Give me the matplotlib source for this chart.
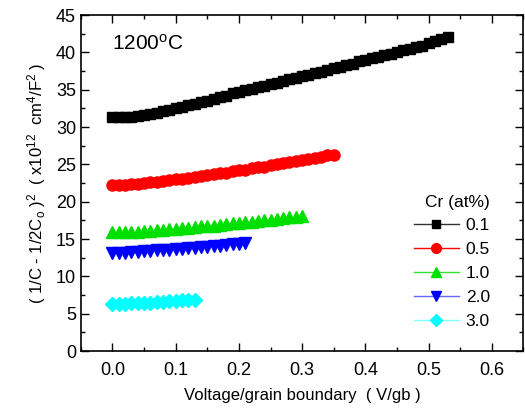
import matplotlib
matplotlib.use("Agg")
import matplotlib.pyplot as plt
import numpy as np
from matplotlib.ticker import MultipleLocator

plt.rcParams["font.family"] = ["Liberation Sans", "DejaVu Sans"]
plt.rcParams["mathtext.fontset"] = "custom"
plt.rcParams["mathtext.rm"] = "Liberation Sans"
plt.rcParams["mathtext.it"] = "Liberation Sans"

# bias step of the measurement (V/gb)
step = 0.01

labels = ["0.1", "0.5", "1.0", "2.0", "3.0"]

y_01 = [31.3, 31.3, 31.4, 31.4, 31.5, 31.6, 31.8, 31.9, 32.1, 32.3,
        32.5, 32.7, 32.9, 33.1, 33.3, 33.5, 33.8, 34.0, 34.2, 34.5,
        34.7, 34.9, 35.1, 35.3, 35.5, 35.7, 35.9, 36.1, 36.4, 36.6,
        36.8, 37.0, 37.2, 37.4, 37.7, 37.9, 38.1, 38.3, 38.5, 38.8,
        39.0, 39.2, 39.4, 39.6, 39.8, 40.1, 40.3, 40.5, 40.7, 40.9,
        41.2, 41.5, 41.8, 42.1]
y_05 = [22.3, 22.3, 22.3, 22.4, 22.4, 22.5, 22.6, 22.7, 22.8, 22.9,
        23.0, 23.1, 23.2, 23.3, 23.4, 23.6, 23.7, 23.8, 23.9, 24.1,
        24.2, 24.3, 24.5, 24.6, 24.7, 24.9, 25.0, 25.2, 25.3, 25.4,
        25.6, 25.7, 25.9, 26.0, 26.2, 26.3]
y_10 = [15.9, 15.9, 15.9, 16.0, 16.0, 16.1, 16.1, 16.2, 16.2, 16.3,
        16.4, 16.5, 16.5, 16.6, 16.7, 16.8, 16.8, 16.9, 17.0, 17.1,
        17.2, 17.3, 17.3, 17.4, 17.5, 17.6, 17.7, 17.8, 17.9, 18.0,
        18.1]
y_20 = [13.2, 13.2, 13.2, 13.3, 13.3, 13.4, 13.4, 13.5, 13.5, 13.6,
        13.7, 13.7, 13.8, 13.8, 13.9, 14.0, 14.1, 14.1, 14.2, 14.3,
        14.4, 14.5]
y_30 = [6.3, 6.3, 6.3, 6.4, 6.4, 6.5, 6.5, 6.6, 6.6, 6.7,
        6.7, 6.8, 6.8, 6.9]

series = [y_01, y_05, y_10, y_20, y_30]
colors = ["black", "red", "#00e000", "blue", "cyan"]
line_colors = ["#333333", "red", "#33e033", "#6666ff", "#80ffff"]
markers = ["s", "o", "^", "v", "D"]
msizes = [7, 8, 8, 8, 7]


def main():
    fig = plt.figure(figsize=(5.25, 4.17), dpi=100)
    ax = fig.add_axes([0.154, 0.158, 0.843, 0.806])

    handles = []
    for ys, c, lc, m, ms, lab in zip(series, colors, line_colors, markers, msizes, labels):
        xs = np.arange(len(ys)) * step
        ax.plot(xs, ys, ls="none", marker=m, ms=ms, mec=c, mfc=c)
        (h,) = ax.plot([], [], color=lc, lw=1, marker=m, ms=ms - 1, mec=c, mfc=c,
                       label=lab)
        handles.append(h)

    ax.set_xlim(-0.05, 0.65)
    ax.set_ylim(0, 45)
    ax.xaxis.set_major_locator(MultipleLocator(0.1))
    ax.xaxis.set_minor_locator(MultipleLocator(0.05))
    ax.yaxis.set_major_locator(MultipleLocator(5))
    ax.yaxis.set_minor_locator(MultipleLocator(2.5))
    ax.xaxis.set_major_formatter(matplotlib.ticker.FormatStrFormatter("%.1f"))
    ax.tick_params(which="both", direction="in", top=True, right=True,
                   labelsize=13, width=1)
    ax.tick_params(which="major", length=6)
    ax.tick_params(which="minor", length=3)
    ax.tick_params(axis="x", pad=8)
    for s in ax.spines.values():
        s.set_linewidth(1.2)

    ax.set_xlabel("Voltage/grain boundary  ( V/gb )", fontsize=12, labelpad=6)
    ax.set_ylabel(r"( 1/C - 1/2C$_\mathregular{o}$ )$^\mathregular{2}$  "
                  r"( x10$^\mathregular{12}$  cm$^\mathregular{4}$/F$^\mathregular{2}$ )",
                  fontsize=12, labelpad=6)

    ax.text(0.07, 0.915, r"1200$^\mathregular{o}$C", transform=ax.transAxes,
            fontsize=15, va="center")

    leg = ax.legend(handles=handles, loc="lower right", bbox_to_anchor=(0.96, 0.02),
                    frameon=False, title="Cr (at%)", fontsize=12.5,
                    title_fontsize=12.5, handlelength=2.6, handletextpad=0.4,
                    labelspacing=0.5)
    leg._legend_box.align = "right"

    fig.savefig("out.png", dpi=100)


if __name__ == "__main__":
    main()
